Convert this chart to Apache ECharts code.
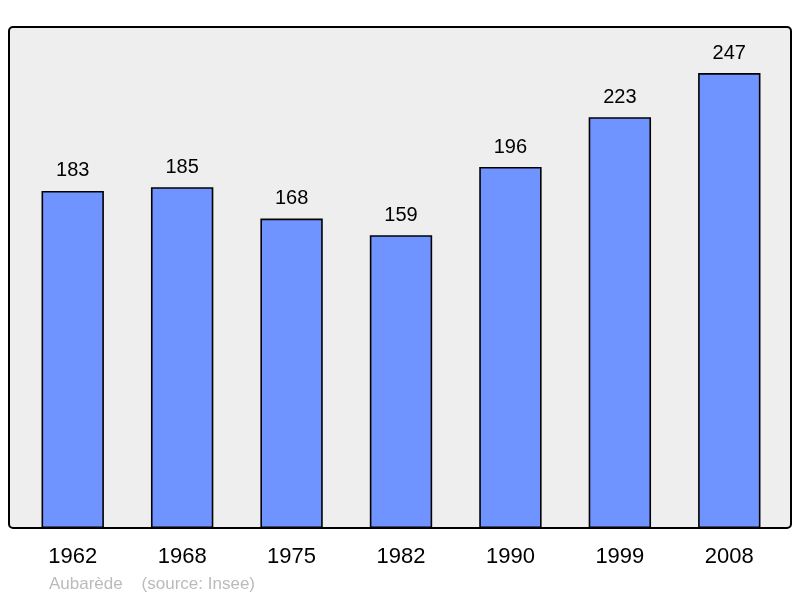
<!DOCTYPE html>
<html>
<head>
<meta charset="utf-8">
<script src="https://cdn.jsdelivr.net/npm/echarts@6/dist/echarts.min.js"></script>
<style>
html, body { margin: 0; padding: 0; background: #fff; }
#main { width: 800px; height: 598px; }
</style>
</head>
<body>
<div id="main"></div>
<script>
// Population data
var annees = ['1962', '1968', '1975', '1982', '1990', '1999', '2008'];
var population = [183, 185, 168, 159, 196, 223, 247];

var myChart = echarts.init(document.getElementById('main'));

var option = {
    animation: false,
    graphic: [
        {
            type: 'rect',
            z: -10,
            shape: { x: 9, y: 27, width: 782, height: 501, r: 4 },
            style: { fill: '#eeeeee', stroke: '#000', lineWidth: 2 }
        },
        {
            type: 'text',
            left: 49,
            top: 576,
            style: {
                text: 'Aubarède    (source: Insee)',
                fill: '#bbbbbb',
                fontSize: 17,
                fontFamily: 'Liberation Sans, Arial, sans-serif'
            }
        }
    ],
    grid: { left: 18, right: 16, top: 27, bottom: 70 },
    xAxis: {
        type: 'category',
        data: annees,
        axisLine: { show: false },
        axisTick: { show: false },
        axisLabel: {
            color: '#000',
            fontSize: 22,
            margin: 18,
            fontFamily: 'Liberation Sans, Arial, sans-serif'
        }
    },
    yAxis: {
        type: 'value',
        min: 0,
        max: 272,
        show: false
    },
    series: [
        {
            type: 'bar',
            data: population,
            barWidth: '57%',
            itemStyle: {
                color: '#7094ff',
                borderColor: '#000',
                borderWidth: 1.6
            },
            label: {
                show: true,
                position: 'top',
                distance: 10,
                color: '#000',
                fontSize: 20,
                fontFamily: 'Liberation Sans, Arial, sans-serif'
            }
        }
    ]
};

myChart.setOption(option, true);
</script>
</body>
</html>
